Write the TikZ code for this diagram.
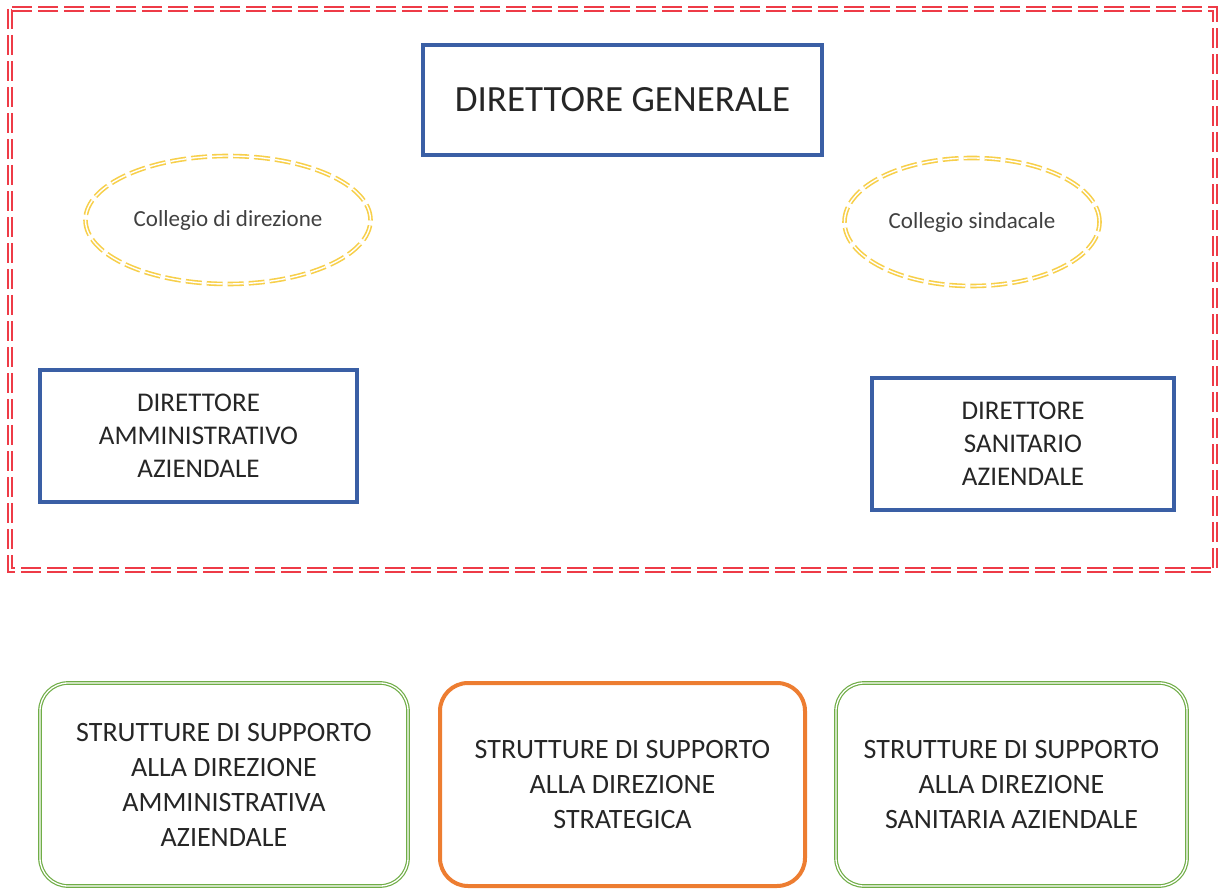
\documentclass[tikz,border=0pt]{standalone}
\usepackage{fontspec}
\setmainfont{Carlito}
\usetikzlibrary{shapes.geometric}
\definecolor{dblue}{HTML}{3A5FA5}
\definecolor{dred}{HTML}{EE3B47}
\definecolor{dyel}{HTML}{F7CF4A}
\definecolor{dgreen}{HTML}{70AD47}
\definecolor{dorange}{HTML}{ED7D31}
\tikzset{
  bluebox/.style={draw=dblue, line width=3.5pt, align=center, inner sep=0pt, text=black!85},
  coll/.style={ellipse, draw=dyel, line width=1.6pt, double=white, double distance=1.4pt, dash pattern=on 16pt off 5pt, inner sep=0pt, font=\fontsize{23}{26}\selectfont, text=black!75},
  greenbox/.style={rounded corners=28pt, draw=dgreen, line width=1.2pt, double=white, double distance=1.3pt, align=center, inner sep=0pt, font=\fontsize{28}{35}\selectfont, text=black!85},
  orangebox/.style={rounded corners=28pt, draw=dorange, line width=4pt, align=center, inner sep=0pt, font=\fontsize{28}{35}\selectfont, text=black!85},
}
\begin{document}
\begin{tikzpicture}[x=1pt,y=-1pt]
\useasboundingbox (0,0) rectangle (1219,890);
\draw[draw=dred, line width=2pt, double=white, double distance=1.4pt, dash pattern=on 20pt off 6pt] (10,9) rectangle (1215,570);
\node[bluebox, minimum width=399pt, minimum height=110pt, font=\fontsize{37}{44}\selectfont] (dg) at (622.5,100) {DIRETTORE GENERALE};
\node[coll, minimum width=285pt, minimum height=128pt] (cd) at (228,220) {Collegio di direzione};
\node[coll, minimum width=255pt, minimum height=128pt] (cs) at (972,222) {Collegio sindacale};
\node[bluebox, minimum width=317pt, minimum height=132pt, font=\fontsize{27}{33}\selectfont] (da) at (198.5,436) {DIRETTORE\\AMMINISTRATIVO\\AZIENDALE};
\node[bluebox, minimum width=302pt, minimum height=132pt, font=\fontsize{27}{33}\selectfont] (ds) at (1023,444) {DIRETTORE\\SANITARIO\\AZIENDALE};
\node[greenbox, minimum width=368pt, minimum height=203pt] (sa) at (224,784.5) {STRUTTURE DI SUPPORTO\\ALLA DIREZIONE\\AMMINISTRATIVA\\AZIENDALE};
\node[orangebox, minimum width=365pt, minimum height=203pt] (st) at (622.5,784.5) {STRUTTURE DI SUPPORTO\\ALLA DIREZIONE\\STRATEGICA};
\node[greenbox, minimum width=351pt, minimum height=203pt] (ss) at (1011.5,784.5) {STRUTTURE DI SUPPORTO\\ALLA DIREZIONE\\SANITARIA AZIENDALE};
\end{tikzpicture}
\end{document}
